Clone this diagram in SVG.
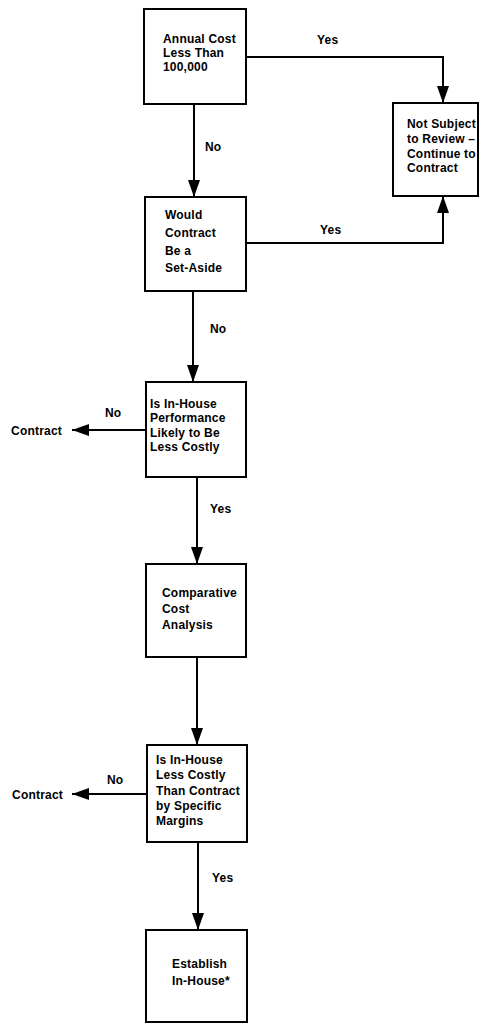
<svg xmlns="http://www.w3.org/2000/svg" width="482" height="1024" viewBox="0 0 482 1024">
  <style>
    .box { fill: #ffffff; stroke: #000000; stroke-width: 2; }
    .wire { fill: none; stroke: #000000; stroke-width: 2; marker-end: url(#head); }
    text { font-family: "Liberation Sans", Arial, sans-serif; font-size: 12px; font-weight: bold; fill: #000000; letter-spacing: 0.2px; }
  </style>
  <defs>
    <marker id="head" markerUnits="userSpaceOnUse" markerWidth="18" markerHeight="12" refX="17" refY="6" orient="auto">
      <path d="M0,0 L17,6 L0,12 z" fill="#000000"/>
    </marker>
  </defs>
  <rect width="482" height="1024" fill="#ffffff"/>

  <!-- connectors -->
  <g id="connectors">
    <polyline class="wire" points="246,57 443,57 443,103"/>
    <line class="wire" x1="194" y1="104" x2="194" y2="197"/>
    <polyline class="wire" points="246,243 443,243 443,196"/>
    <line class="wire" x1="193" y1="291" x2="193" y2="382"/>
    <line class="wire" x1="146" y1="430" x2="72" y2="430"/>
    <line class="wire" x1="197" y1="477" x2="197" y2="564"/>
    <line class="wire" x1="197" y1="657" x2="197" y2="745"/>
    <line class="wire" x1="147" y1="794" x2="72" y2="794"/>
    <line class="wire" x1="198" y1="842" x2="198" y2="930"/>

    <text x="317" y="44">Yes</text>
    <text x="205" y="151">No</text>
    <text x="320" y="234">Yes</text>
    <text x="210" y="333">No</text>
    <text x="105" y="417">No</text>
    <text x="62" y="435" text-anchor="end">Contract</text>
    <text x="210" y="513">Yes</text>
    <text x="107" y="784">No</text>
    <text x="63" y="799" text-anchor="end">Contract</text>
    <text x="212" y="882">Yes</text>
  </g>

  <g id="annual-cost">
    <rect class="box" x="144" y="9" width="102" height="95"/>
    <text x="163" y="43">Annual Cost</text>
    <text x="163" y="57">Less Than</text>
    <text x="163" y="71">100,000</text>
  </g>

  <g id="not-subject">
    <rect class="box" x="393" y="103" width="85" height="93"/>
    <text x="407" y="128">Not Subject</text>
    <text x="407" y="143">to Review –</text>
    <text x="407" y="158">Continue to</text>
    <text x="407" y="172">Contract</text>
  </g>

  <g id="set-aside">
    <rect class="box" x="145" y="197" width="101" height="94"/>
    <text x="165" y="219">Would</text>
    <text x="165" y="237">Contract</text>
    <text x="165" y="255">Be a</text>
    <text x="165" y="272">Set-Aside</text>
  </g>

  <g id="performance">
    <rect class="box" x="146" y="382" width="100" height="95"/>
    <text x="150" y="408">Is In-House</text>
    <text x="150" y="422">Performance</text>
    <text x="150" y="437">Likely to Be</text>
    <text x="150" y="451">Less Costly</text>
  </g>

  <g id="cost-analysis">
    <rect class="box" x="146" y="564" width="100" height="93"/>
    <text x="162" y="597">Comparative</text>
    <text x="162" y="613">Cost</text>
    <text x="162" y="629">Analysis</text>
  </g>

  <g id="margins">
    <rect class="box" x="147" y="745" width="100" height="97"/>
    <text x="156" y="764">Is In-House</text>
    <text x="156" y="779">Less Costly</text>
    <text x="156" y="795">Than Contract</text>
    <text x="156" y="810">by Specific</text>
    <text x="156" y="825">Margins</text>
  </g>

  <g id="establish">
    <rect class="box" x="146" y="930" width="101" height="92"/>
    <text x="172" y="968">Establish</text>
    <text x="172" y="985">In-House*</text>
  </g>
</svg>
